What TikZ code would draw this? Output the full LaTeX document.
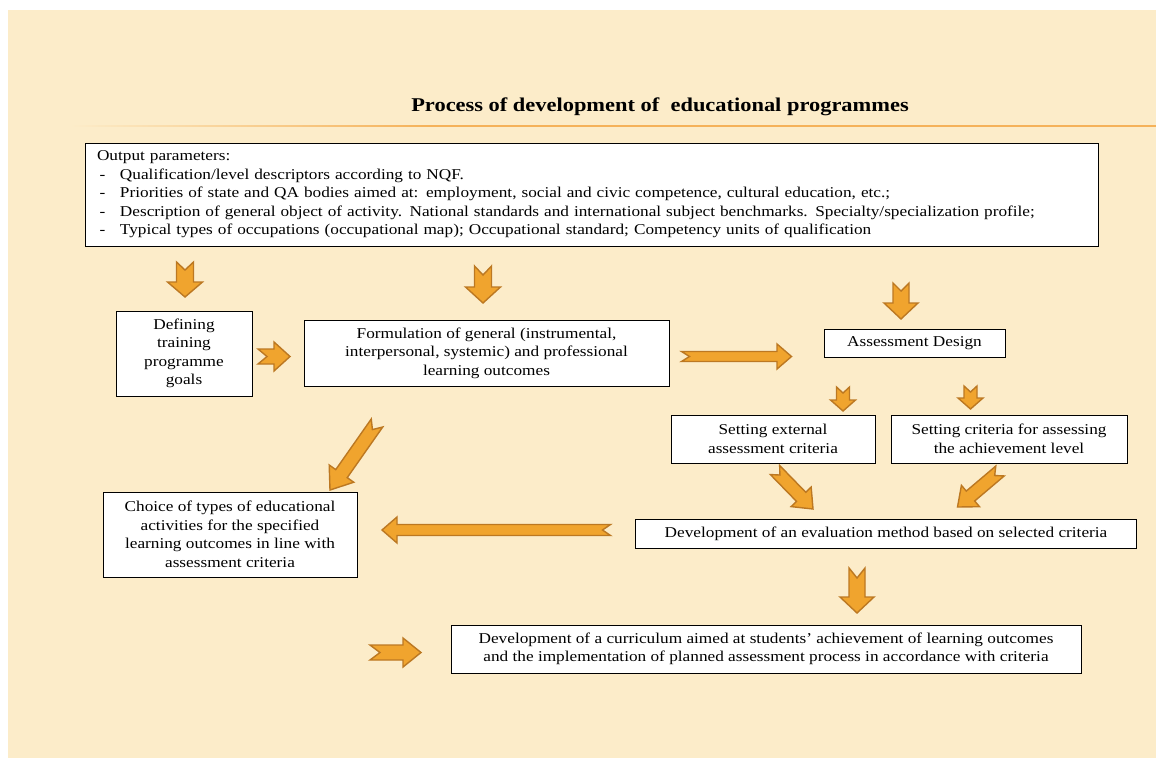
\documentclass[tikz,border=0pt]{standalone}
\usepackage{fontspec}
\setmainfont{Liberation Serif}[FakeStretch=1.15]
\usetikzlibrary{calc,shadows}

\definecolor{paper}{RGB}{252,236,201}
\definecolor{arrowfill}{RGB}{240,164,46}
\definecolor{arrowline}{RGB}{188,120,34}
\definecolor{ruleline}{RGB}{245,178,90}

\tikzset{
  stage/.style={draw=black, fill=white, line width=0.9pt, align=center, inner sep=0pt,
    font=\fontsize{15}{18.5}\selectfont,
    drop shadow={shadow xshift=0.8pt, shadow yshift=-0.8pt, fill=black!35}},
  blockarrow/.style={fill=arrowfill, draw=arrowline, line width=1.4pt, line join=miter},
}

% notched block arrow: tail, tip, half shaft, half head, head length, notch
\newcommand\notched[6]{%
  \coordinate (nb) at ($(#2)!#5!(#1)$);
  \draw[blockarrow] (#2) -- ($(nb)!#4!90:(#2)$) -- ($(nb)!#3!90:(#2)$)
    -- ($(#1)!#3!90:(#2)$) -- ($(#1)!#6!(#2)$) -- ($(#1)!#3!-90:(#2)$)
    -- ($(nb)!#3!-90:(#2)$) -- ($(nb)!#4!-90:(#2)$) -- cycle;
}

\begin{document}
\begin{tikzpicture}[x=1pt, y=-1pt]
  \useasboundingbox (0,0) rectangle (1156,758);
  \fill[paper] (8,10) rectangle (1156,758);

  % title and rule
  \node (title) at (660,107) {\bfseries\fontsize{19.5}{22}\selectfont Process of development of~ educational programmes};
  \shade[left color=paper, right color=ruleline] (70,125.3) rectangle (430,126.8);
  \draw[ruleline, line width=1.5pt] (430,126) -- (1156,126);

  % boxes
  \node[stage, align=left, text width=989pt, minimum width=1013pt, minimum height=103pt] (out) at (591.5,194.5)
    {Output parameters:\\
     \makebox[23pt][l]{\,-}Qualification/level descriptors according to NQF.\\
     \makebox[23pt][l]{\,-}Priorities of state and QA bodies aimed at: employment, social and civic competence, cultural education, etc.;\\
     \makebox[23pt][l]{\,-}Description of general object of activity. National standards and international subject benchmarks. Specialty/specialization profile;\\
     \makebox[23pt][l]{\,-}Typical types of occupations (occupational map); Occupational standard; Competency units of qualification};
  \node[stage, minimum width=136pt, minimum height=85pt] (goals) at (184,353.5)
    {Defining\\training\\programme\\goals};
  \node[stage, minimum width=365pt, minimum height=66pt] (outcomes) at (486.5,353)
    {Formulation of general (instrumental,\\interpersonal, systemic) and professional\\learning outcomes};
  \node[stage, minimum width=181pt, minimum height=28pt] (design) at (914.5,343) {Assessment Design};
  \node[stage, minimum width=204pt, minimum height=48pt] (extcrit) at (773,439)
    {Setting external\\assessment criteria};
  \node[stage, minimum width=236pt, minimum height=48pt] (levelcrit) at (1009,439)
    {Setting criteria for assessing\\the achievement level};
  \node[stage, minimum width=254pt, minimum height=85pt] (choice) at (230,534.5)
    {Choice of types of educational\\activities for the specified\\learning outcomes in line with\\assessment criteria};
  \node[stage, minimum width=501pt, minimum height=29pt] (evalmethod) at (886,533.5)
    {Development of an evaluation method based on selected criteria};
  \node[stage, minimum width=630pt, minimum height=48pt] (curriculum) at (766,649)
    {Development of a curriculum aimed at students{\char"27} achievement of learning outcomes\\and the implementation of planned assessment process in accordance with criteria};

  % arrow ends
  \coordinate (a1t) at (185,262);    \coordinate (a1h) at (185,297);
  \coordinate (a2t) at (483,266);    \coordinate (a2h) at (483,303);
  \coordinate (a3t) at (258,356.5);  \coordinate (a3h) at (290,356.5);
  \coordinate (a4t) at (681.5,356.5);\coordinate (a4h) at (791.5,356.5);
  \coordinate (a5t) at (901,283);    \coordinate (a5h) at (901,319);
  \coordinate (a6t) at (843,387);    \coordinate (a6h) at (843,411);
  \coordinate (a7t) at (970.5,386);  \coordinate (a7h) at (970.5,409);
  \coordinate (a8t) at (377,423);    \coordinate (a8h) at (330,490);
  \coordinate (a9t) at (610.5,530);  \coordinate (a9h) at (382,530);
  \coordinate (a10t) at (775,470);   \coordinate (a10h) at (813,509);
  \coordinate (a11t) at (1000,471);  \coordinate (a11h) at (957.5,507);
  \coordinate (a12t) at (857,568);   \coordinate (a12h) at (857,613);
  \coordinate (a13t) at (370,652.5); \coordinate (a13h) at (421,652.5);

  % arrows
  \notched{a1t}{a1h}{8.5pt}{17.5pt}{15pt}{8pt}
  \notched{a2t}{a2h}{8.5pt}{17.5pt}{16pt}{9pt}
  \notched{a3t}{a3h}{7.5pt}{14.5pt}{16pt}{9pt}
  \notched{a4t}{a4h}{5pt}{12.5pt}{14.5pt}{8pt}
  \notched{a5t}{a5h}{8pt}{17pt}{16pt}{8pt}
  \notched{a6t}{a6h}{6.5pt}{12.5pt}{11pt}{6pt}
  \notched{a7t}{a7h}{6.5pt}{12.5pt}{11pt}{6pt}
  \notched{a8t}{a8h}{7pt}{15pt}{20pt}{8pt}
  \notched{a9t}{a9h}{5.5pt}{13pt}{15pt}{8pt}
  \notched{a10t}{a10h}{6.5pt}{14pt}{17pt}{7pt}
  \notched{a11t}{a11h}{6.5pt}{14pt}{17pt}{7pt}
  \notched{a12t}{a12h}{8pt}{17pt}{16pt}{10pt}
  \notched{a13t}{a13h}{7.5pt}{14.5pt}{18pt}{10pt}
\end{tikzpicture}
\end{document}
